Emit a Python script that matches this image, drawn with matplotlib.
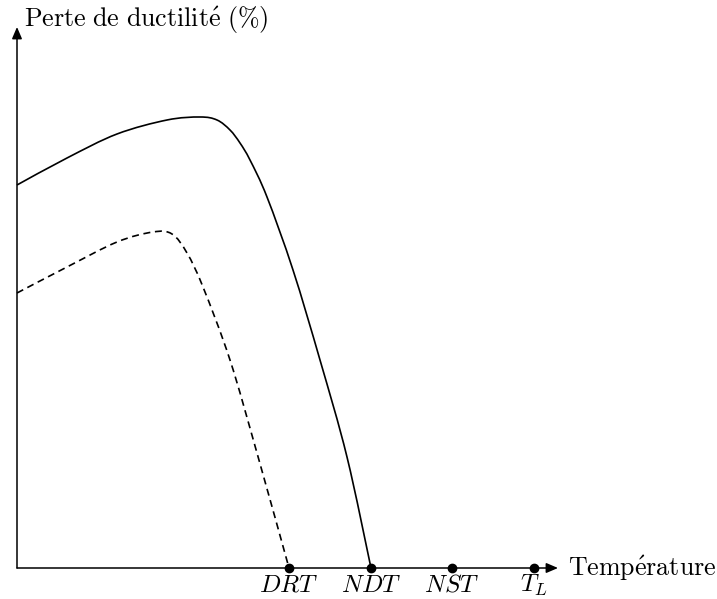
import matplotlib
matplotlib.use('Agg')
import matplotlib.pyplot as plt
from matplotlib.path import Path
from matplotlib.patches import PathPatch

plt.rcParams['mathtext.fontset'] = 'cm'

# courbe pleine : perte de ductilite
temp_solid = [0, 50, 100, 150, 183, 200, 213, 223, 233, 250, 276, 303, 330, 354]
loss_solid = [383, 410, 434, 448, 451, 448, 438, 425, 408, 371, 298, 208, 111, 0]

# courbe en pointilles
temp_dash = [0, 50, 100, 136, 155, 170, 186, 213, 240, 272]
loss_dash = [275, 301, 326, 336, 334, 315, 281, 208, 115, 0]

# temperatures caracteristiques
point_names = [r'$DRT$', r'$NDT$', r'$NST$', r'$T_L$']
point_temps = [272, 354, 435, 517]

axis_end = 541


def smooth_path(xs, ys):
    # courbe lisse passant par les points (comme plot[smooth] en TikZ)
    pts = list(zip(xs, ys))
    pts = [pts[0]] + pts + [pts[-1]]
    verts = [pts[1]]
    codes = [Path.MOVETO]
    for i in range(1, len(pts) - 2):
        p0, p1, p2, p3 = pts[i - 1], pts[i], pts[i + 1], pts[i + 2]
        c1 = (p1[0] + (p2[0] - p0[0]) / 6, p1[1] + (p2[1] - p0[1]) / 6)
        c2 = (p2[0] - (p3[0] - p1[0]) / 6, p2[1] - (p3[1] - p1[1]) / 6)
        verts += [c1, c2, p2]
        codes += [Path.CURVE4] * 3
    return Path(verts, codes)


fig = plt.figure(figsize=(7.17, 5.99), dpi=100)
ax = fig.add_axes([0, 0, 1, 1])
ax.set_xlim(-17, 700)
ax.set_ylim(-31, 568)
ax.axis('off')

arrow = dict(arrowstyle='-|>,head_length=0.7,head_width=0.3', color='black',
             lw=1.1, shrinkA=0, shrinkB=0, mutation_scale=10)
ax.annotate('', xy=(axis_end, 0), xytext=(0, 0), arrowprops=arrow)
ax.annotate('', xy=(0, axis_end), xytext=(0, 0), arrowprops=arrow)

ax.add_patch(PathPatch(smooth_path(temp_solid, loss_solid), fill=False,
                       edgecolor='black', lw=1.2))
ax.add_patch(PathPatch(smooth_path(temp_dash, loss_dash), fill=False,
                       edgecolor='black', lw=1.2, linestyle=(0, (4.2, 2.8))))

ax.plot(point_temps, [0] * len(point_temps), 'o', color='black', ms=6, zorder=5)
for name, t in zip(point_names, point_temps):
    ax.text(t, -5, name, ha='center', va='top', fontsize=18)

ax.text(7, 548, r'$\mathrm{Perte\ de\ ductilit\acute{e}\ (\%)}$', ha='left', va='center', fontsize=18.7)
ax.text(551, 0, r'$\mathrm{Temp\acute{e}rature}$', ha='left', va='center', fontsize=18.7)

fig.savefig('out.png', dpi=100)
